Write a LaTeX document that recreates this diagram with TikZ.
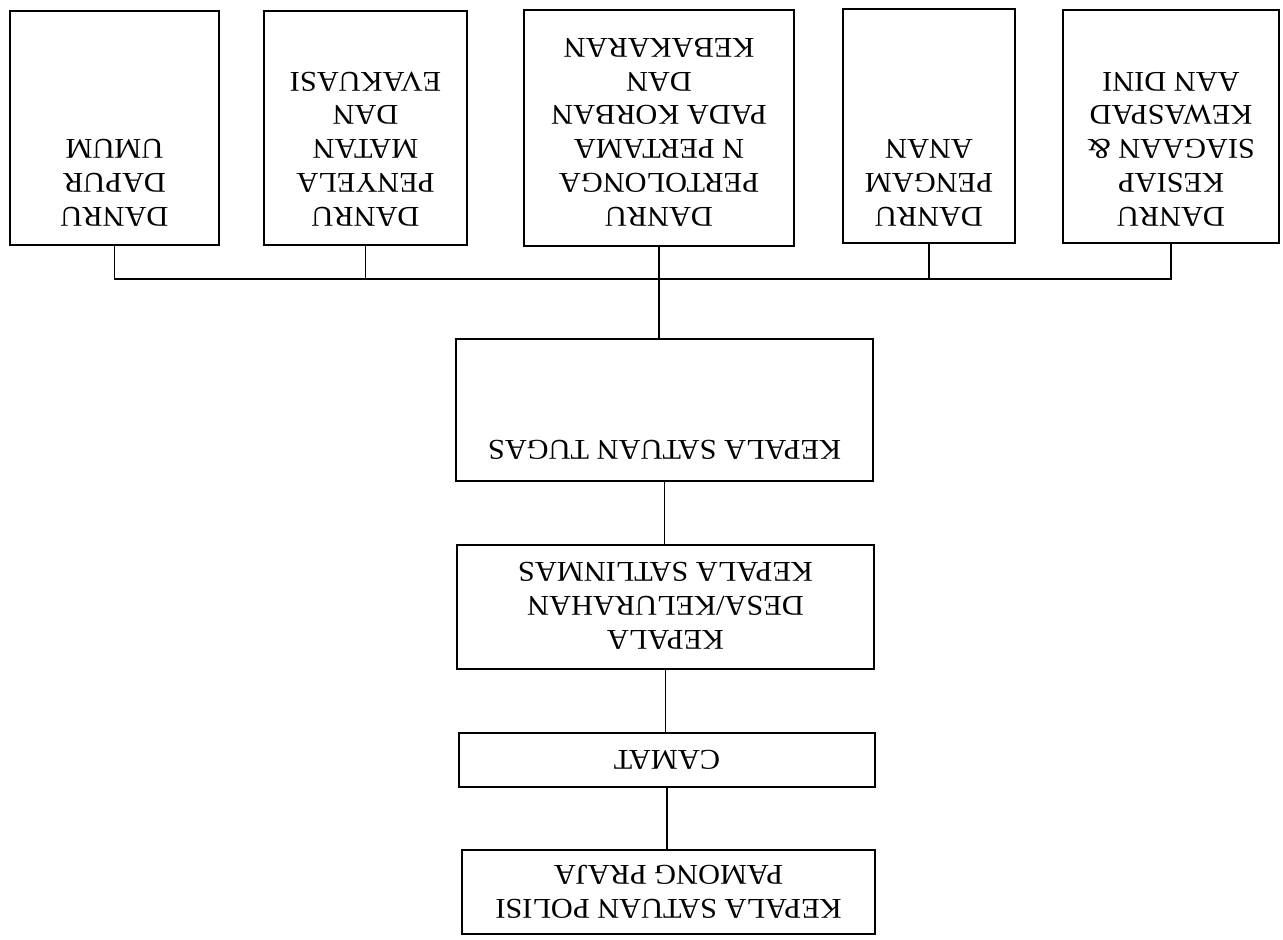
\documentclass[tikz,border=0pt]{standalone}
\usepackage{fontspec}
\setmainfont{Liberation Serif}[FakeStretch=1.06]
\usepackage{tikz}
\usetikzlibrary{positioning, calc}

\begin{document}
\begin{tikzpicture}[
    x=0.02cm, y=-0.02cm,
    every node/.style={font=\fontsize{16.3}{19.3}\selectfont},
    box/.style={rectangle, draw, line width=1pt, inner sep=0pt, outer sep=0pt},
    txt/.style={rotate=180, align=center, inner sep=0pt, anchor=north},
    line/.style={line width=1pt}
]
\useasboundingbox (0,0) rectangle (1283,939);

% row of danru boxes
\node[box, minimum width=4.18cm, minimum height=4.68cm] (dapur)       at (114.5,128) {};
\node[box, minimum width=4.06cm, minimum height=4.68cm] (evakuasi)    at (365.5,128) {};
\node[box, minimum width=5.40cm, minimum height=4.72cm] (pertolongan) at (659,128)   {};
\node[box, minimum width=3.44cm, minimum height=4.68cm] (pengamanan)  at (929,126)   {};
\node[box, minimum width=4.32cm, minimum height=4.66cm] (kesiap)      at (1171,126.5) {};

\node[txt] (dapur-t)       at ([yshift=0.36cm]dapur.south)       {DANRU\\DAPUR\\UMUM};
\node[txt] (evakuasi-t)    at ([yshift=0.36cm]evakuasi.south)    {DANRU\\PENYELA\\MATAN\\DAN\\EVAKUASI};
\node[txt] (pertolongan-t) at ([yshift=0.38cm]pertolongan.south) {DANRU\\PERTOLONGA\\N PERTAMA\\PADA KORBAN\\DAN\\KEBAKARAN};
\node[txt] (pengamanan-t)  at ([yshift=0.32cm]pengamanan.south)  {DANRU\\PENGAM\\ANAN};
\node[txt] (kesiap-t)      at ([yshift=0.32cm]kesiap.south)      {DANRU\\KESIAP\\SIAGAAN \&\\KEWASPAD\\AAN DINI};

% chain of command
\node[box, minimum width=8.34cm, minimum height=2.84cm] (satgas) at (664.5,410) {};
\node[txt] (satgas-t) at ([yshift=0.42cm]satgas.south) {KEPALA SATUAN TUGAS};
\node[box, minimum width=8.34cm, minimum height=2.48cm] (kades) at (665.5,607) {};
\node[txt] (kades-t) at ([yshift=0.38cm]kades.south) {KEPALA\\DESA/KELURAHAN\\KEPALA SATLINMAS};
\node[box, rotate=180, minimum width=8.32cm, minimum height=1.08cm] (camat) at (667,760) {CAMAT};
\node[box, rotate=180, align=center, minimum width=8.26cm, minimum height=1.68cm] (satpolpp) at (668.5,892)
    {KEPALA SATUAN POLISI\\PAMONG PRAJA};

\coordinate (bus) at (665,279);

\draw[line] (dapur.south) -- (dapur.south |- bus) -- (kesiap.south |- bus) -- (kesiap.south);
\draw[line] (evakuasi.south) -- (evakuasi.south |- bus);
\draw[line] (pengamanan.south) -- (pengamanan.south |- bus);
\draw[line] (pertolongan.south) -- (pertolongan.south |- satgas.north);
\draw[line] (satgas.south) -- (satgas.south |- kades.north);
\draw[line] (kades.south) -- (kades.south |- camat.south);
\draw[line] (camat.north) -- (camat.north |- satpolpp.south);
\end{tikzpicture}
\end{document}
